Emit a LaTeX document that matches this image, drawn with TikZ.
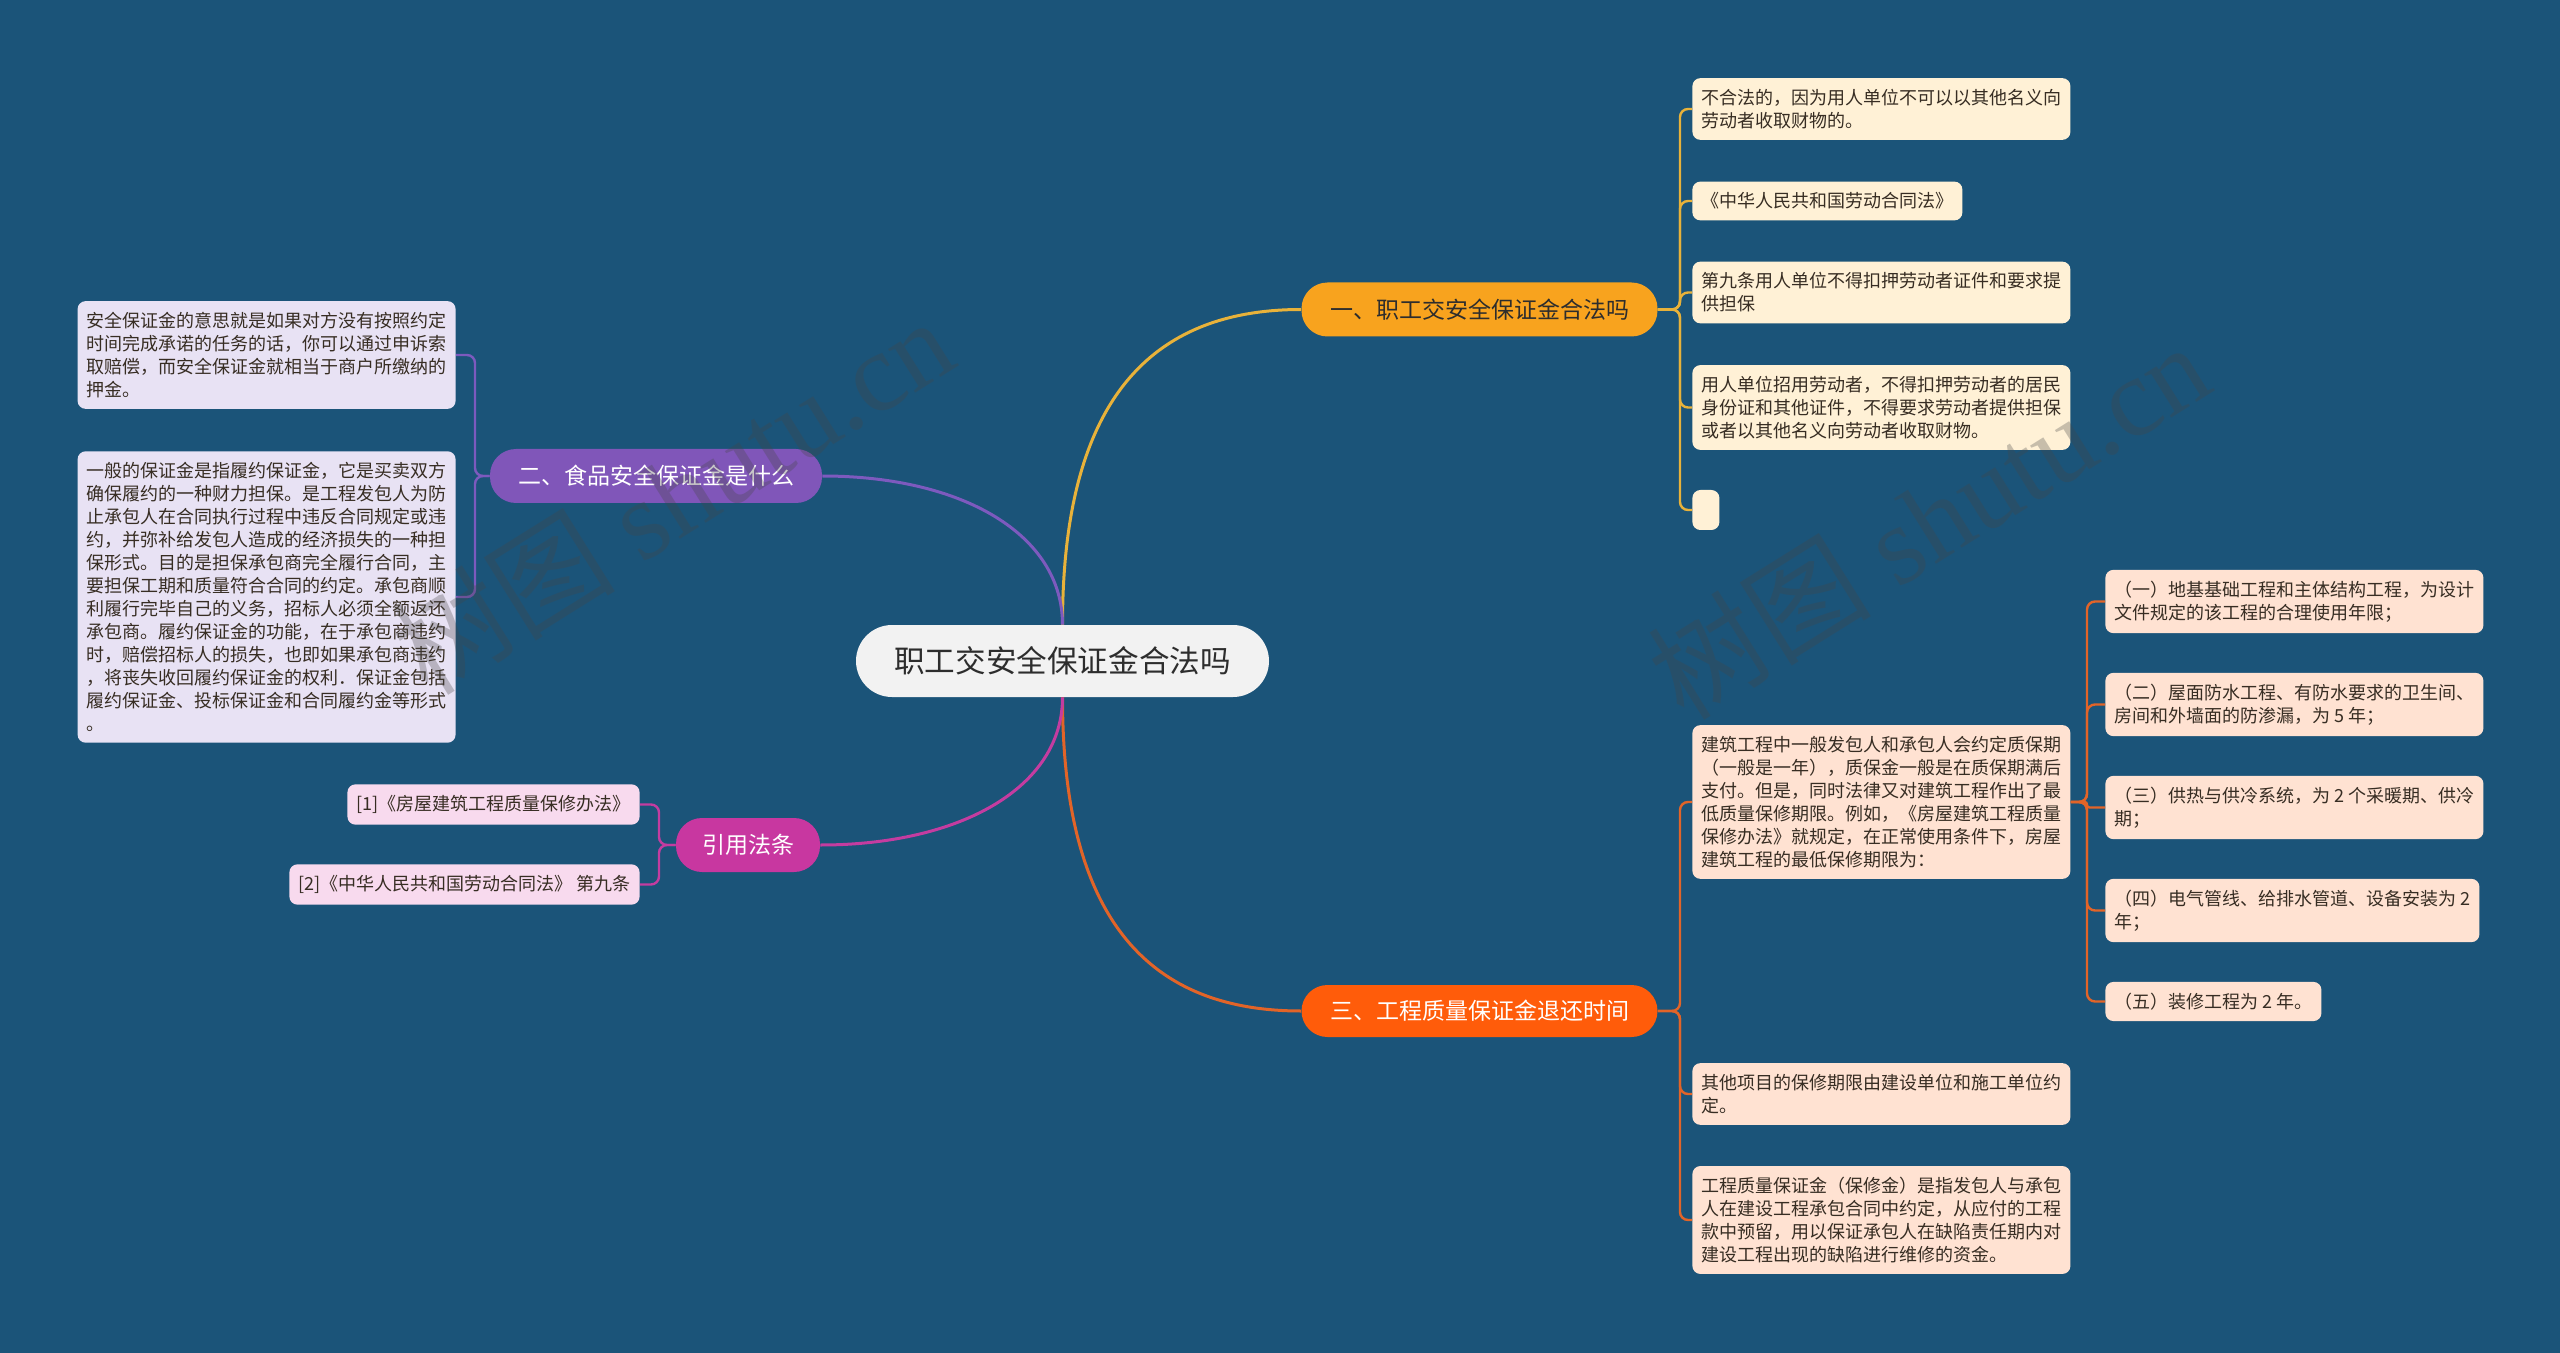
\documentclass[tikz,border=0pt]{standalone}
\usepackage{fontspec}
\newfontfamily\cjk{Noto Sans CJK SC}
\newfontfamily\wmfont{Liberation Serif}
\definecolor{bgblue}{RGB}{27,84,121}
\definecolor{rootgray}{RGB}{242,242,242}
\definecolor{roottext}{RGB}{45,45,45}
\definecolor{yellowtopic}{RGB}{248,163,30}
\definecolor{yellowline}{RGB}{232,178,58}
\definecolor{yellowleaf}{RGB}{255,241,214}
\definecolor{purpletopic}{RGB}{128,86,185}
\definecolor{purpleline}{RGB}{125,90,190}
\definecolor{purpleleaf}{RGB}{232,226,244}
\definecolor{orangetopic}{RGB}{255,92,10}
\definecolor{orangeline}{RGB}{226,100,40}
\definecolor{orangeleaf}{RGB}{255,226,210}
\definecolor{pinktopic}{RGB}{200,55,160}
\definecolor{pinkline}{RGB}{196,60,160}
\definecolor{pinkleaf}{RGB}{248,218,238}
\definecolor{leaftext}{RGB}{55,45,35}
\definecolor{wmgray}{RGB}{70,70,70}
\begin{document}
\begin{tikzpicture}[x=0.5pt,y=-0.5pt,
  rootnode/.style={fill=rootgray, text=roottext, rounded corners=18pt, inner sep=0pt,
    minimum width=206.5pt, minimum height=36pt, font=\cjk\fontsize{15.3}{18}\selectfont},
  topic/.style={rounded corners=13pt, inner sep=0pt, minimum height=27pt, text=white,
    font=\cjk\fontsize{11.5}{14}\selectfont},
  leafbox/.style={rounded corners=4pt, inner xsep=4.5pt, inner ysep=5.5pt, align=left,
    text=leaftext, font=\cjk\fontsize{9}{11.5}\selectfont},
  branchline/.style={line width=1.5pt},
  leafline/.style={line width=1.2pt, rounded corners=4pt},
  wmark/.style={text=wmgray, opacity=0.3, rotate=32, inner sep=0pt,
    font=\wmfont\fontsize{56}{60}\selectfont}]
  %% Canvas in pixels of the reference.
  \useasboundingbox (0,0) rectangle (2560,1353);
  \clip (0,0) rectangle (2560,1353);
  \fill[bgblue] (0,0) rectangle (2560,1353);

  %% Central topic.
  \node[rootnode] (root) at (1062.5,661) {职工交安全保证金合法吗};

  %% Main branches.
  \node[topic, fill=yellowtopic, text=roottext, minimum width=178pt] (b1) at (1479.5,309.5) {一、职工交安全保证金合法吗};
  \node[topic, fill=purpletopic, minimum width=166pt] (b2) at (656,476) {二、食品安全保证金是什么};
  \node[topic, fill=orangetopic, minimum width=178pt, minimum height=26pt] (b3) at (1479.5,1011) {三、工程质量保证金退还时间};
  \node[topic, fill=pinktopic, minimum width=72pt] (b4) at (748,845) {引用法条};

  %% Branch one leaves.
  \node[leafbox, fill=yellowleaf, anchor=west] (c1) at (1692,109) {不合法的，因为用人单位不可以以其他名义向\\劳动者收取财物的。};
  \node[leafbox, fill=yellowleaf, anchor=west] (c2) at (1692,201) {《中华人民共和国劳动合同法》};
  \node[leafbox, fill=yellowleaf, anchor=west] (c3) at (1692,292.5) {第九条用人单位不得扣押劳动者证件和要求提\\供担保};
  \node[leafbox, fill=yellowleaf, anchor=west] (c4) at (1692,407.5) {用人单位招用劳动者，不得扣押劳动者的居民\\身份证和其他证件，不得要求劳动者提供担保\\或者以其他名义向劳动者收取财物。};
  \node[leafbox, fill=yellowleaf, anchor=west, minimum width=13.5pt, minimum height=20pt] (c5) at (1692,510) {};

  %% Branch two leaves.
  \node[leafbox, fill=purpleleaf, anchor=east] (f1) at (456,355) {安全保证金的意思就是如果对方没有按照约定\\时间完成承诺的任务的话，你可以通过申诉索\\取赔偿，而安全保证金就相当于商户所缴纳的\\押金。};
  \node[leafbox, fill=purpleleaf, anchor=east] (f2) at (456,597) {一般的保证金是指履约保证金，它是买卖双方\\确保履约的一种财力担保。是工程发包人为防\\止承包人在合同执行过程中违反合同规定或违\\约，并弥补给发包人造成的经济损失的一种担\\保形式。目的是担保承包商完全履行合同，主\\要担保工期和质量符合合同的约定。承包商顺\\利履行完毕自己的义务，招标人必须全额返还\\承包商。履约保证金的功能，在于承包商违约\\时，赔偿招标人的损失，也即如果承包商违约\\，将丧失收回履约保证金的权利．保证金包括\\履约保证金、投标保证金和合同履约金等形式\\。};

  %% Branch three leaves.
  \node[leafbox, fill=orangeleaf, anchor=west] (d1) at (1692,802) {建筑工程中一般发包人和承包人会约定质保期\\（一般是一年），质保金一般是在质保期满后\\支付。但是，同时法律又对建筑工程作出了最\\低质量保修期限。例如，《房屋建筑工程质量\\保修办法》就规定，在正常使用条件下，房屋\\建筑工程的最低保修期限为：};
  \node[leafbox, fill=orangeleaf, anchor=west] (d2) at (1692,1094) {其他项目的保修期限由建设单位和施工单位约\\定。};
  \node[leafbox, fill=orangeleaf, anchor=west] (d3) at (1692,1220) {工程质量保证金（保修金）是指发包人与承包\\人在建设工程承包合同中约定，从应付的工程\\款中预留，用以保证承包人在缺陷责任期内对\\建设工程出现的缺陷进行维修的资金。};
  \node[leafbox, fill=orangeleaf, anchor=west] (e1) at (2105,601.5) {（一）地基基础工程和主体结构工程，为设计\\文件规定的该工程的合理使用年限；};
  \node[leafbox, fill=orangeleaf, anchor=west] (e2) at (2105,704.5) {（二）屋面防水工程、有防水要求的卫生间、\\房间和外墙面的防渗漏，为 5 年；};
  \node[leafbox, fill=orangeleaf, anchor=west] (e3) at (2105,807.5) {（三）供热与供冷系统，为 2 个采暖期、供冷\\期；};
  \node[leafbox, fill=orangeleaf, anchor=west] (e4) at (2105,910.5) {（四）电气管线、给排水管道、设备安装为 2\\年；};
  \node[leafbox, fill=orangeleaf, anchor=west] (e5) at (2105,1001.5) {（五）装修工程为 2 年。};

  %% Branch four leaves.
  \node[leafbox, fill=pinkleaf, anchor=east] (g1) at (640,804.5) {[1]《房屋建筑工程质量保修办法》};
  \node[leafbox, fill=pinkleaf, anchor=east] (g2) at (640,884.5) {[2]《中华人民共和国劳动合同法》 第九条};

  %% Curves from the central topic.
  \draw[branchline, yellowline] (root.north) .. controls +(0,-225) and +(-150,0) .. (b1.west);
  \draw[branchline, purpleline] (root.north) .. controls +(0,-90) and +(140,0) .. (b2.east);
  \draw[branchline, orangeline] (root.south) .. controls +(0,225) and +(-150,0) .. (b3.west);
  \draw[branchline, pinkline] (root.south) .. controls +(0,90) and +(140,0) .. (b4.east);

  %% Leaf connectors.
  \foreach \c in {c1,c2,c3,c4,c5}
  \draw[leafline, yellowline] (b1.east) -| ([xshift=-6pt]\c.west) -- (\c.west);
  \foreach \c in {f1,f2}
  \draw[leafline, purpleline] (b2.west) -| ([xshift=9.5pt]\c.east) -- (\c.east);
  \foreach \c in {d1,d2,d3}
  \draw[leafline, orangeline] (b3.east) -| ([xshift=-6pt]\c.west) -- (\c.west);
  \foreach \c in {e1,e2,e4,e5}
  \draw[leafline, orangeline] (d1.east) -| ([xshift=-9pt]\c.west) -- (\c.west);
  \draw[leafline, orangeline, rounded corners=1.2pt] (d1.east) -| ([xshift=-9pt]e3.west) -- (e3.west);
  \foreach \c in {g1,g2}
  \draw[leafline, pinkline] (b4.west) -| ([xshift=9.5pt]\c.east) -- (\c.east);

  %% Watermarks.
  \node[wmark] (wm1) at (672,495) {{\cjk 树图} shutu.cn};
  \node[wmark] (wm2) at (1928,520) {{\cjk 树图} shutu.cn};
\end{tikzpicture}
\end{document}
